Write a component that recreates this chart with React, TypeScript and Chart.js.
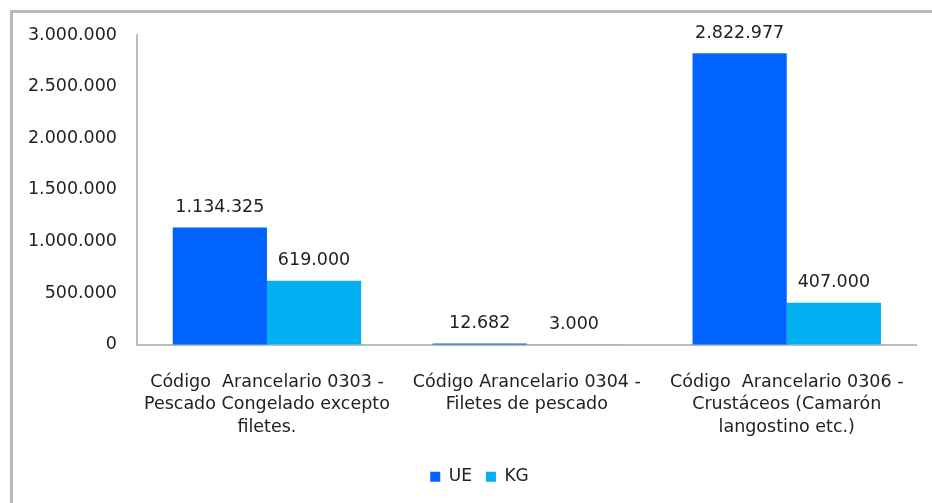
import React, { useEffect, useRef } from "react";
import { Chart, registerables } from "chart.js";

Chart.register(...registerables);

const categories: string[][] = [
  ["Código  Arancelario 0303 -", "Pescado Congelado excepto", "filetes."],
  ["Código Arancelario 0304 -", "Filetes de pescado"],
  ["Código  Arancelario 0306 -", "Crustáceos (Camarón", "langostino etc.)"],
];
const seriesNames = ["UE", "KG"];
const ueValues = [1134325, 12682, 2822977];
const kgValues = [619000, 3000, 407000];
const yMin = 0;
const yMax = 3000000;
const yStep = 500000;

const FONT = "'DejaVu Sans', sans-serif";
const TEXT = "#222222";

function fmt(v: number): string {
  return String(Math.round(v)).replace(/\B(?=(\d{3})+(?!\d))/g, ".");
}

const valueLabels = {
  id: "valueLabels",
  afterDatasetsDraw(chart: any) {
    const ctx = chart.ctx;
    ctx.save();
    ctx.font = `17.5px ${FONT}`;
    ctx.fillStyle = TEXT;
    ctx.textAlign = "center";
    ctx.textBaseline = "middle";
    chart.data.datasets.forEach((ds: any, di: number) => {
      const meta = chart.getDatasetMeta(di);
      meta.data.forEach((el: any, i: number) => {
        ctx.fillText(fmt(ds.data[i]), el.x, el.y - 20);
      });
    });
    ctx.restore();
  },
};

const legendShift = {
  id: "legendShift",
  afterLayout(chart: any) {
    if (chart.legend) {
      chart.legend.left += 21;
      chart.legend.right += 21;
    }
  },
};

export default function App() {
  const ref = useRef<HTMLCanvasElement | null>(null);
  useEffect(() => {
    if (!ref.current) return;
    const chart = new Chart(ref.current, {
      type: "bar",
      data: {
        labels: categories,
        datasets: [
          {
            label: seriesNames[0],
            data: ueValues,
            backgroundColor: "#0062FF",
            barPercentage: 1,
            categoryPercentage: 0.725,
          },
          {
            label: seriesNames[1],
            data: kgValues,
            backgroundColor: "#00B0F0",
            barPercentage: 1,
            categoryPercentage: 0.725,
          },
        ],
      },
      options: {
        responsive: false,
        animation: false,
        devicePixelRatio: 1,
        layout: { padding: { top: 35, right: 15, left: 0, bottom: 7.8 } },
        plugins: {
          legend: {
            position: "bottom",
            labels: {
              boxWidth: 10,
              boxHeight: 10,
              padding: 14,
              color: TEXT,
              font: { family: FONT, size: 17 },
            },
          },
          tooltip: { enabled: false },
        },
        scales: {
          x: {
            grid: { display: false, drawTicks: false },
            border: { display: true, color: "#bcbcbc", width: 2 },
            ticks: {
              color: TEXT,
              padding: 26,
              maxRotation: 0,
              autoSkip: false,
              font: { family: FONT, size: 17.5, lineHeight: 1.3 },
            },
            afterFit(scale: any) {
              scale.height = 109.5;
            },
          },
          y: {
            min: yMin,
            max: yMax,
            grid: { display: false, drawTicks: false },
            border: { display: true, color: "#bcbcbc", width: 2 },
            ticks: {
              stepSize: yStep,
              color: TEXT,
              padding: 20,
              font: { family: FONT, size: 17.5 },
              callback: (v: any) => fmt(Number(v)),
            },
            afterFit(scale: any) {
              scale.width = 137;
            },
          },
        },
      },
      plugins: [valueLabels, legendShift],
    });
    return () => chart.destroy();
  }, []);
  return (
    <div
      style={{
        position: "fixed",
        left: 0,
        top: 0,
        width: 932,
        height: 503,
        background: "#ffffff",
        overflow: "hidden",
      }}
    >
      <div
        style={{
          position: "absolute",
          left: 10,
          top: 10,
          width: 1000,
          height: 1000,
          borderLeft: "3px solid #b8b8b8",
          borderTop: "3px solid #b8b8b8",
        }}
      />
      <canvas
        ref={ref}
        width={932}
        height={503}
        style={{ position: "absolute", left: 0, top: 0 }}
      />
    </div>
  );
}
